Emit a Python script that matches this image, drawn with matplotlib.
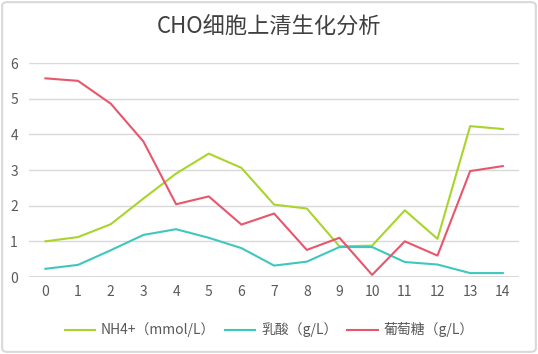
import matplotlib
matplotlib.use('Agg')
import matplotlib.pyplot as plt
from matplotlib.patches import FancyBboxPatch

plt.rcParams['font.family'] = ['Noto Sans CJK SC', 'DejaVu Sans']

days = list(range(15))
nh4 = [1.0, 1.12, 1.48, 2.2, 2.9, 3.46, 3.06, 2.03, 1.92, 0.86, 0.88, 1.87, 1.07, 4.23, 4.15]
lactate = [0.23, 0.34, 0.75, 1.18, 1.34, 1.1, 0.81, 0.32, 0.43, 0.84, 0.84, 0.42, 0.35, 0.11, 0.11]
glucose = [5.57, 5.5, 4.86, 3.8, 2.04, 2.26, 1.47, 1.78, 0.76, 1.1, 0.06, 1.0, 0.6, 2.97, 3.11]
labels = ['NH4+（mmol/L）', '乳酸（g/L）', '葡萄糖（g/L）']
colors = ['#A9D42C', '#3EC7BE', '#E8566B']
yticks = [0, 1, 2, 3, 4, 5, 6]

fig = plt.figure(figsize=(5.38, 3.54), dpi=100, facecolor='white')
# 外边框
fig.patches.append(FancyBboxPatch((0.004, 0.006), 0.992, 0.988, boxstyle='round,pad=0,rounding_size=0.01',
                                  transform=fig.transFigure, fill=False, ec='#D9D9D9', lw=1.5))
ax = fig.add_axes([0.054, 0.2175, 0.911, 0.6045])

for vals, lab, c in zip([nh4, lactate, glucose], labels, colors):
    ax.plot(days, vals, color=c, lw=1.5, label=lab)

ax.set_xlim(-0.5, 14.5)
ax.set_ylim(0, 6)
ax.set_xticks(days)
ax.set_yticks(yticks)
ax.grid(axis='y', color='#D9D9D9', lw=1)
ax.set_axisbelow(True)
for s in ax.spines.values():
    s.set_visible(False)
ax.axhline(0, color='#D9D9D9', lw=1.5, zorder=0)
ax.tick_params(length=0, labelsize=10, labelcolor='#595959')
ax.tick_params(axis='y', pad=8)
ax.tick_params(axis='x', pad=6)

fig.text(0.5, 0.925, 'CHO细胞上清生化分析', ha='center', va='center', fontsize=16, color='#404040')
fig.legend(loc='center', bbox_to_anchor=(0.5, 0.068), ncol=3, frameon=False, fontsize=10,
           handlelength=2.2, columnspacing=0.7, handletextpad=0.4, labelcolor='#595959')

plt.savefig('out.png', dpi=100, facecolor='white')
